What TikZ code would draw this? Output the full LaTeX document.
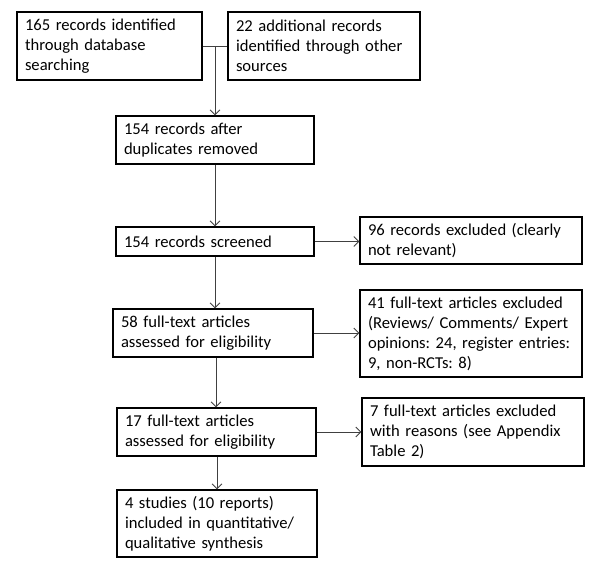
\documentclass[tikz,border=0pt]{standalone}
\usepackage{fontspec}
\setmainfont{Carlito}
\usetikzlibrary{arrows.meta}
\frenchspacing
\tikzset{
  box/.style={draw=black, line width=1.1pt, align=left, inner xsep=8pt, inner ysep=0pt,
    font=\fontsize{16.6}{20}\selectfont, anchor=center},
  conn/.style={draw=black!75, line width=1pt},
  arr/.style={conn, -{Straight Barb[length=5pt,width=10pt,line width=0.9pt]}}
}
\begin{document}
\begin{tikzpicture}[x=1pt,y=-1pt]
\useasboundingbox (0,0) rectangle (600,566);
\node[box, minimum width=185pt, minimum height=68pt, text width=169pt] (b1) at (109.5,46)
  {165 records identified\\through database\\searching};
\node[box, minimum width=192pt, minimum height=68pt, text width=176pt] (b2) at (324,46)
  {22 additional records\\identified through other\\sources};
\node[box, minimum width=198pt, minimum height=48pt, text width=182pt] (b3) at (215,140)
  {154 records after\\duplicates removed};
\node[box, minimum width=198pt, minimum height=29pt, text width=182pt] (b4) at (215,241.5)
  {154 records screened};
\node[box, minimum width=222pt, minimum height=47pt, text width=206pt] (b5) at (471,240.5)
  {96 records excluded (clearly\\not relevant)};
\node[box, minimum width=222pt, minimum height=87pt, text width=206pt] (b6) at (471,333.5)
  {41 full-text articles excluded\\(Reviews/ Comments/ Expert\\opinions: 24, register entries:\\9, non-RCTs: 8)};
\node[box, minimum width=200pt, minimum height=48pt, text width=184pt] (b7) at (213,333)
  {58 full-text articles\\assessed for eligibility};
\node[box, minimum width=199pt, minimum height=48pt, text width=183pt] (b8) at (216.5,432)
  {17 full-text articles\\assessed for eligibility};
\node[box, minimum width=222pt, minimum height=68pt, text width=206pt] (b9) at (473,432)
  {7 full-text articles excluded\\with reasons (see Appendix\\Table 2)};
\node[box, minimum width=200pt, minimum height=67pt, text width=184pt] (b10) at (217,523.5)
  {4 studies (10 reports)\\included in quantitative/\\qualitative synthesis};
\coordinate (j) at (215,46);
\draw[conn] (b1.east) -- (b2.west);
\draw[arr] (j) -- (b3.north);
\draw[arr] (b3.south) -- (b4.north);
\draw[arr] (b4.east) -- (b4.east -| b5.west);
\draw[arr] (b4.south) -- (b4.south |- b7.north);
\draw[arr] (b7.east) -- (b7.east -| b6.west);
\draw[arr] (b7.south -| 216,0) -- (216,0 |- b8.north);
\draw[arr] (b8.east) -- (b8.east -| b9.west);
\draw[arr] (b8.south -| 217,0) -- (217,0 |- b10.north);
\end{tikzpicture}
\end{document}
